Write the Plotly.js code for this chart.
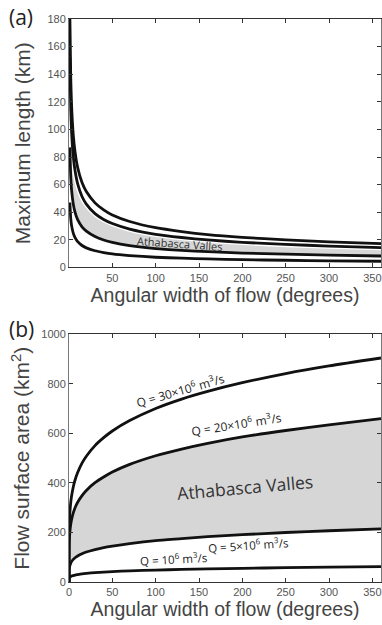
<!DOCTYPE html>
<html>
<head>
<meta charset="utf-8">
<script src="https://cdn.plot.ly/plotly-3.0.1.min.js"></script>
<style>html,body{margin:0;padding:0;background:#fff;}#chart{width:382px;height:625px;}</style>
</head>
<body>
<div id="chart"></div>
<script>
// Panel (a): maximum length (km) vs angular width (degrees)
const thetaA = [1, 2, 3, 5, 7, 10, 15, 20, 30, 40, 50, 70, 100, 130, 160, 200, 250, 300, 360];
const lenQ30 = [182, 138, 117, 95.5, 83.5, 72.4, 61.5, 55, 46.8, 41.7, 38, 33.3, 28.8, 26, 23.8, 21.8, 20, 18.6, 17.3];
const lenQ20 = [152, 115, 98, 80, 70, 60.5, 51.4, 45.9, 39, 34.8, 31.8, 27.8, 24, 21.7, 19.9, 18.2, 16.7, 15.5, 14.4];
const lenQ5  = [87, 66, 56, 45.7, 39.9, 34.6, 29.4, 26.3, 22.4, 19.9, 18.2, 15.9, 13.7, 12.4, 11.4, 10.4, 9.6, 8.9, 8.3];
const lenQ1  = [47, 35.6, 30.3, 24.7, 21.6, 18.7, 15.9, 14.2, 12.1, 10.8, 9.8, 8.6, 7.4, 6.7, 6.2, 5.6, 5.2, 4.8, 4.5];

// Panel (b): flow surface area (km^2) vs angular width (degrees)
const thetaB = [0, 0.2, 0.5, 1, 2, 3, 5, 7, 10, 15, 20, 30, 40, 50, 70, 100, 130, 160, 200, 250, 300, 360];
const areaQ30 = [0, 202, 243, 279, 321, 348, 385, 412, 442, 480, 508, 551, 583, 610, 652, 701, 739, 770, 805, 842, 873, 905];
const areaQ20 = [0, 147, 177, 203, 233, 253, 280, 300, 322, 349, 370, 401, 424, 444, 475, 510, 537, 560, 586, 612, 635, 660];
const areaQ5  = [0, 48, 58, 66, 76, 83, 91.5, 98, 105, 114, 121, 131, 139, 145, 155, 167, 175, 183, 191, 200, 207, 215];
const areaQ1  = [0, 14, 17, 19, 22, 24, 26, 28, 30, 33, 35, 38, 40, 42, 45, 48, 51, 53, 55, 58, 60, 62];

const tickA = [50, 100, 150, 200, 250, 300, 350];
const tickB = [0, 50, 100, 150, 200, 250, 300, 350];
const yTickA = [0, 20, 40, 60, 80, 100, 120, 140, 160, 180];
const yTickB = [0, 200, 400, 600, 800, 1000];

const black = '#111111';
const bandGray = '#d6d6d6';
const lw = 2.8;

function line(x, y, xa, ya, color, width) {
  return {x: x, y: y, xaxis: xa, yaxis: ya, type: 'scatter', mode: 'lines',
          line: {color: color, width: width, shape: 'spline', smoothing: 0.6}, hoverinfo: 'skip', showlegend: false};
}

const traces = [];
// panel (a) band
traces.push(line(thetaA, lenQ5, 'x', 'y', 'rgba(0,0,0,0)', 0));
traces.push(Object.assign(line(thetaA, lenQ20, 'x', 'y', 'rgba(0,0,0,0)', 0), {fill: 'tonexty', fillcolor: bandGray}));
traces.push(line(thetaA, lenQ20, 'x', 'y', '#ffffff', 5.5));
[lenQ30, lenQ20, lenQ5, lenQ1].forEach(s => traces.push(line(thetaA, s, 'x', 'y', black, lw)));
// panel (b) band
traces.push(line(thetaB, areaQ5, 'x2', 'y2', 'rgba(0,0,0,0)', 0));
traces.push(Object.assign(line(thetaB, areaQ20, 'x2', 'y2', 'rgba(0,0,0,0)', 0), {fill: 'tonexty', fillcolor: bandGray}));
[areaQ30, areaQ20, areaQ5, areaQ1].forEach(s => traces.push(line(thetaB, s, 'x2', 'y2', black, lw)));

const tickFont = {family: 'Liberation Sans, Arial, sans-serif', size: 11, color: '#555'};
const xTitleFont = {family: 'Liberation Sans, Arial, sans-serif', size: 19.5, color: '#444'};
const yTitleFont = {family: 'Liberation Sans, Arial, sans-serif', size: 21, color: '#444'};
const axisCommon = {showgrid: false, zeroline: false, showline: true, linecolor: '#333', linewidth: 1,
  mirror: 'ticks', ticks: 'inside', ticklen: 4, tickcolor: '#333', tickfont: tickFont, fixedrange: true};

const annFont = {family: 'Open Sans, sans-serif', size: 12, color: '#222'};
const annFontSmall = {family: 'Open Sans, sans-serif', size: 11.5, color: '#222'};
const layout = {
  width: 382, height: 625,
  margin: {l: 69, r: 1, t: 19, b: 43},
  paper_bgcolor: '#fff', plot_bgcolor: '#fff',
  showlegend: false,
  xaxis: Object.assign({}, axisCommon, {anchor: 'y', domain: [0, 1], range: [0, 360], tickvals: tickA,
    title: {text: 'Angular width of flow (degrees)', font: xTitleFont, standoff: 1}}),
  yaxis: Object.assign({}, axisCommon, {anchor: 'x', domain: [0.5587, 1], range: [0, 180], tickvals: yTickA,
    linecolor: '#777', title: {text: 'Maximum length (km)', font: yTitleFont, standoff: 11}}),
  xaxis2: Object.assign({}, axisCommon, {anchor: 'y2', domain: [0, 1], range: [0, 360], tickvals: tickB,
    title: {text: 'Angular width of flow (degrees)', font: xTitleFont, standoff: 2}}),
  yaxis2: Object.assign({}, axisCommon, {anchor: 'x2', domain: [0, 0.4397], range: [0, 1000], tickvals: yTickB,
    linecolor: '#777', title: {text: 'Flow surface area (km<sup>2</sup>)', font: yTitleFont, standoff: 5}}),
  annotations: [
    {xref: 'paper', yref: 'paper', x: -0.154, y: 1.0036, text: '(a)', showarrow: false,
     font: {family: 'Open Sans, sans-serif', size: 21, color: '#222'}, xanchor: 'center', yanchor: 'middle'},
    {xref: 'paper', yref: 'paper', x: -0.151, y: 0.449, text: '(b)', showarrow: false,
     font: {family: 'Open Sans, sans-serif', size: 21, color: '#222'}, xanchor: 'center', yanchor: 'middle'},
    {xref: 'x', yref: 'y', x: 128, y: 17.6, text: 'Athabasca Valles', showarrow: false, textangle: 4,
     font: {family: 'Open Sans, sans-serif', size: 11, color: '#333'}},
    {xref: 'x2', yref: 'y2', x: 129, y: 775, text: 'Q = 30×10<sup>6</sup> m<sup>3</sup>/s', showarrow: false, textangle: -16, font: annFont},
    {xref: 'x2', yref: 'y2', x: 193, y: 637, text: 'Q = 20×10<sup>6</sup> m<sup>3</sup>/s', showarrow: false, textangle: -9, font: annFont},
    {xref: 'x2', yref: 'y2', x: 203, y: 383, text: 'Athabasca Valles', showarrow: false, textangle: -5,
     font: {family: 'Open Sans, sans-serif', size: 17.5, color: '#333'}},
    {xref: 'x2', yref: 'y2', x: 207, y: 150, text: 'Q = 5×10<sup>6</sup> m<sup>3</sup>/s', showarrow: false, textangle: -4, font: annFontSmall},
    {xref: 'x2', yref: 'y2', x: 120, y: 96, text: 'Q = 10<sup>6</sup> m<sup>3</sup>/s', showarrow: false, textangle: -3, font: annFontSmall}
  ]
};

Plotly.newPlot('chart', traces, layout, {displayModeBar: false, staticPlot: true});
</script>
</body>
</html>
